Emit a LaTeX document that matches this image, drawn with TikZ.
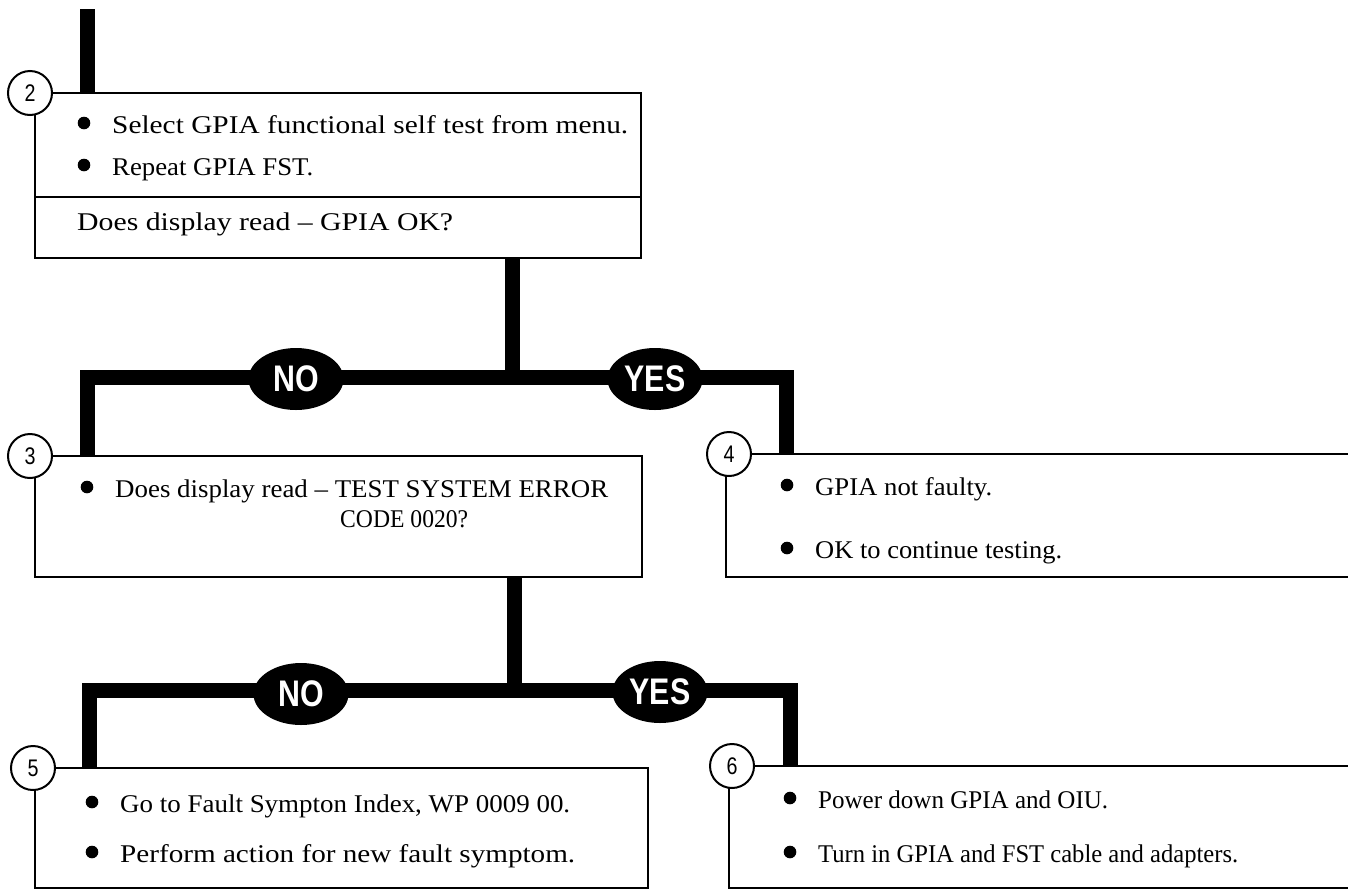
\documentclass[tikz,border=0pt]{standalone}
\usepackage{fontspec}
\usepackage{graphicx}
\setmainfont{Liberation Serif}
\newfontfamily\condfont[FakeStretch=0.82]{Liberation Sans}
\usetikzlibrary{shapes.geometric}

\tikzset{
  stepbox/.style={draw, rectangle, line width=2pt, anchor=north west,
    inner sep=0pt, outer sep=0pt},
  stepnum/.style={draw, circle, line width=2pt, fill=white, minimum size=44pt,
    inner sep=0pt, font=\condfont\fontsize{24}{24}\selectfont},
  flow/.style={line width=15pt, line join=miter},
  answer/.style={ellipse, fill=black, text=white, minimum width=95pt,
    minimum height=62pt, inner sep=0pt,
    font=\condfont\bfseries\fontsize{37}{37}\selectfont},
  body/.style={anchor=base west, inner sep=0pt,
    font=\fontsize{25.5}{30}\selectfont},
  bulletdot/.style={fill=black}
}
% filled bullet placed in front of a text line
\newcommand{\bulletat}[1]{\fill[bulletdot] ([xshift=-28pt,yshift=10pt]#1.base west) circle (6.3pt);}
% set a line of text to a given width, keeping its height
\newcommand{\setw}[2]{\resizebox{#1}{\height}{#2}}

\begin{document}
\begin{tikzpicture}[x=1pt,y=-1pt]
\useasboundingbox (0,0) rectangle (1348,892);
\clip (0,0) rectangle (1348,892);

% step boxes
\node[stepbox, minimum width=606pt, minimum height=165pt] (b2) at (35,93) {};
\node[stepbox, minimum width=607pt, minimum height=121pt] (b3) at (35,456) {};
\node[stepbox, minimum width=628pt, minimum height=123pt] (b4) at (726,454) {};
\node[stepbox, minimum width=613pt, minimum height=120pt] (b5) at (35,768) {};
\node[stepbox, minimum width=625pt, minimum height=122pt] (b6) at (729,766) {};

% divider between actions and question in step 2
\coordinate (div) at (0,197);
\draw[line width=2pt] (b2.west |- div) -- (b2.east |- div);

% flow lines
\coordinate (start) at (87,9);
\coordinate (j1) at (512,377);
\coordinate (j2) at (514,690);
\draw[flow] (start) -- (start |- b2.north);
\draw[flow] (b2.south -| j1) -- (j1);
\draw[flow] ([xshift=52pt]b3.north west) |- (j1) -| ([xshift=60pt]b4.north west);
\draw[flow] (b3.south -| j2) -- (j2);
\draw[flow] ([xshift=54pt]b5.north west) |- (j2) -| ([xshift=61pt]b6.north west);

% answer labels
\node[answer] (no1) at (296,379) {NO};
\node[answer] (yes1) at (655,379) {YES};
\node[answer] (no2) at (301,694) {NO};
\node[answer] (yes2) at (660,692) {YES};

% step numbers
\node[stepnum] (n2) at ([xshift=-5pt]b2.north west) {2};
\node[stepnum] (n3) at ([xshift=-5pt]b3.north west) {3};
\node[stepnum] (n4) at ([xshift=3pt]b4.north west) {4};
\node[stepnum] (n5) at ([xshift=-2pt]b5.north west) {5};
\node[stepnum] (n6) at ([xshift=3pt]b6.north west) {6};

% texts
\node[body] (t2a) at (112,133) {\setw{516pt}{Select GPIA functional self test from menu.}};
\node[body] (t2b) at (112,175) {\setw{201pt}{Repeat GPIA FST.}};
\node[body] (t2c) at (77,230) {\setw{376pt}{Does display read – GPIA OK?}};
\bulletat{t2a}
\bulletat{t2b}

\node[body] (t3a) at (115,497) {\setw{493pt}{Does display read – TEST SYSTEM ERROR}};
\node[body] (t3b) at (340,527) {\setw{128pt}{CODE 0020?}};
\bulletat{t3a}

\node[body] (t4a) at (815,495) {\setw{177pt}{GPIA not faulty.}};
\node[body] (t4b) at (815,558) {\setw{247pt}{OK to continue testing.}};
\bulletat{t4a}
\bulletat{t4b}

\node[body] (t5a) at (120,812) {\setw{450pt}{Go to Fault Sympton Index, WP 0009 00.}};
\node[body] (t5b) at (120,862) {\setw{455pt}{Perform action for new fault symptom.}};
\bulletat{t5a}
\bulletat{t5b}

\node[body] (t6a) at (818,808) {\setw{290pt}{Power down GPIA and OIU.}};
\node[body] (t6b) at (818,862) {\setw{420pt}{Turn in GPIA and FST cable and adapters.}};
\bulletat{t6a}
\bulletat{t6b}
\end{tikzpicture}
\end{document}
